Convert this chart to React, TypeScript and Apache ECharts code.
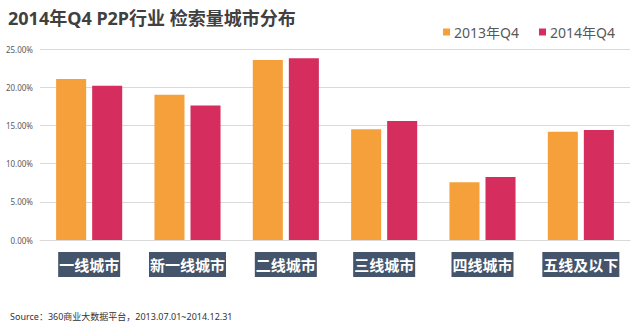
import React, { useEffect, useRef } from "react";
import * as echarts from "echarts";

const categories = ["一线城市", "新一线城市", "二线城市", "三线城市", "四线城市", "五线及以下"];
const seriesNames = ["2013年Q4", "2014年Q4"];
const values2013 = [21.07, 19.0, 23.56, 14.5, 7.55, 14.18];
const values2014 = [20.2, 17.6, 23.8, 15.57, 8.24, 14.4];
const yTicks = [0, 5, 10, 15, 20, 25];
const titleText = "2014年Q4 P2P行业 检索量城市分布";
const sourceText = "Source：360商业大数据平台，2013.07.01~2014.12.31";

export default function App() {
  const ref = useRef<HTMLDivElement>(null);
  useEffect(() => {
    if (!ref.current) return;
    const chart = echarts.init(ref.current, null, { renderer: "svg" });
    const font = "'Noto Sans', 'Noto Sans CJK SC', sans-serif";
    chart.setOption({
      animation: false,
      backgroundColor: "#ffffff",
      textStyle: { fontFamily: font },
      color: ["#F5A03B", "#D42D5E"],
      title: {
        text: titleText,
        left: 3,
        top: 4,
        textStyle: { fontSize: 18, fontWeight: "bold", color: "#404040", fontFamily: font },
      },
      legend: {
        data: seriesNames,
        right: 20,
        top: 20,
        icon: "rect",
        itemWidth: 7,
        itemHeight: 7,
        itemGap: 20,
        textStyle: { fontSize: 14, color: "#595959", padding: [0, 0, 0, -1] },
      },
      grid: [{ left: 40, right: 10, top: 49, bottom: 87 }],
      xAxis: [
        {
          type: "category",
          data: categories,
          gridIndex: 0,
          axisLine: { lineStyle: { color: "#d9d9d9" } },
          axisTick: { show: false },
          axisLabel: {
            margin: 12,
            color: "#ffffff",
            fontWeight: "bold",
            fontSize: 15,
            lineHeight: 17,
            backgroundColor: "#44546A",
            padding: [4, 1, 4, 1],
            fontFamily: "'Noto Sans CJK SC', sans-serif",
          },
        },
      ],
      yAxis: [
        {
          type: "value",
          min: yTicks[0],
          max: yTicks[yTicks.length - 1],
          interval: 5,
          gridIndex: 0,
          axisLine: { show: false },
          axisTick: { show: false },
          splitLine: { lineStyle: { color: "#d9d9d9" } },
          axisLabel: {
            fontSize: 8,
            color: "#595959",
            margin: 7,
            formatter: (v: number) => v.toFixed(2) + "%",
          },
        },
      ],
      series: [
        {
          name: seriesNames[0],
          type: "bar",
          data: values2013,
          barGap: "20%",
          barCategoryGap: "32.8%",
        },
        {
          name: seriesNames[1],
          type: "bar",
          data: values2014,
          barGap: "20%",
          barCategoryGap: "32.8%",
        },
      ],
      graphic: [
        {
          type: "text",
          left: 10,
          top: 312,
          style: { text: sourceText, fontSize: 9, fill: "#333333", fontFamily: font },
        },
      ],
    });
    return () => chart.dispose();
  }, []);
  return <div ref={ref} style={{ width: 640, height: 327, position: "absolute", left: 0, top: 0 }} />;
}
